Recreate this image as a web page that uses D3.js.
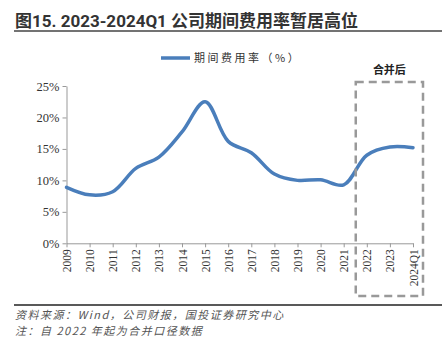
<!DOCTYPE html>
<html><head><meta charset="utf-8">
<script src="https://cdn.jsdelivr.net/npm/d3@7"></script>
<style>body{margin:0;background:#fff}</style>
</head><body>
<svg id="c" width="442" height="342"></svg>
<script>
const categories = ["2009","2010","2011","2012","2013","2014","2015","2016","2017","2018","2019","2020","2021","2022","2023","2024Q1"];
const values = [8.9,7.7,8.2,11.9,13.7,17.7,22.5,16.2,14.4,11.0,10.0,10.1,9.3,14.0,15.3,15.2];
const yTicks = [0,5,10,15,20,25];
const seriesName = "期间费用率（%）";
const title = "图15. 2023-2024Q1 公司期间费用率暂居高位";
const boxLabel = "合并后";
const notes = ["资料来源：Wind，公司财报，国投证券研究中心","注：自 2022 年起为合并口径数据"];

const svg = d3.select("#c");
const cjk = "'Noto Sans CJK SC', sans-serif";
const serif = "'Liberation Serif', 'Times New Roman', serif";

// title
svg.append("text").attr("x",15).attr("y",27).attr("font-family","Roboto, 'Noto Sans CJK SC', sans-serif")
  .attr("font-size",17).attr("font-weight","bold").attr("fill","#333").text(title);
svg.append("line").attr("x1",14).attr("x2",442).attr("y1",31).attr("y2",31).attr("stroke","#444").attr("stroke-width",1.5);

const x = d3.scalePoint().domain(categories).range([66.5,413]);
const y = d3.scaleLinear().domain([0,25]).range([243.3,86]);

// y axis
const ya = svg.append("g").attr("transform","translate(66.5,0)")
  .call(d3.axisLeft(y).tickValues(yTicks).tickFormat(d=>d+"%").tickSize(4).tickSizeOuter(0));
ya.select(".domain").attr("stroke","#999");
ya.selectAll(".tick line").attr("stroke","#999");
ya.selectAll("text").attr("font-family",serif).attr("font-size",12.5).attr("fill","#333").attr("x",-7);

// x axis
const xa = svg.append("g").attr("transform","translate(0,243.3)")
  .call(d3.axisBottom(x).tickSize(4).tickSizeOuter(0));
xa.select(".domain").attr("stroke","#999");
xa.selectAll(".tick line").attr("stroke","#999");
xa.selectAll("text").attr("font-family",serif).attr("font-size",11.5).attr("fill","#333")
  .attr("transform","rotate(-90)").attr("text-anchor","end").attr("x",-6).attr("y",0).attr("dy","0.35em");

// line
const line = d3.line().x((d,i)=>x(categories[i])).y(d=>y(d)).curve(d3.curveCatmullRom.alpha(0.5));
svg.append("path").datum(values).attr("d",line).attr("fill","none").attr("stroke","#4a7ebb")
  .attr("stroke-width",3.5).attr("stroke-linecap","round");

// dashed box
const bx0 = (x("2021")+x("2022"))/2 + 0.5;
svg.append("rect").attr("x",bx0).attr("y",82).attr("width",423-bx0).attr("height",214)
  .attr("fill","none").attr("stroke","#999").attr("stroke-width",2.5).attr("stroke-dasharray","8,5");
svg.append("text").attr("x",(bx0+423)/2).attr("y",74).attr("text-anchor","middle")
  .attr("font-family",cjk).attr("font-size",11).attr("font-weight","bold").attr("fill","#222").text(boxLabel);

// legend
svg.append("line").attr("x1",161).attr("x2",190).attr("y1",58).attr("y2",58).attr("stroke","#4a7ebb").attr("stroke-width",3.5);
svg.append("text").attr("x",194).attr("y",62).attr("font-family",cjk).attr("font-size",11).attr("letter-spacing",2.5).attr("fill","#333").text(seriesName);

// footer
svg.append("line").attr("x1",14).attr("x2",442).attr("y1",305).attr("y2",305).attr("stroke","#222").attr("stroke-width",1.5);
notes.forEach((t,i)=>svg.append("text").attr("x",15).attr("y",319+i*16).attr("font-family",cjk)
  .attr("font-size",11).attr("font-style","italic").attr("letter-spacing",1.5).attr("fill","#555").text(t));
</script>
</body></html>
